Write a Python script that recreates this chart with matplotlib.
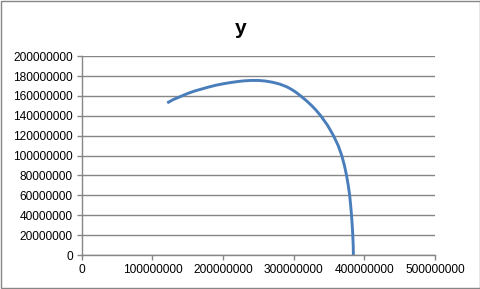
import matplotlib
matplotlib.use("Agg")
import matplotlib.pyplot as plt
from matplotlib.patches import Rectangle
from matplotlib.ticker import MultipleLocator, FuncFormatter

# values
x_vals = [121e6, 130e6, 140e6, 150e6, 160e6, 170e6, 180e6, 190e6, 200e6, 210e6,
          220e6, 230e6, 240e6, 250e6, 260e6, 270e6, 280e6, 290e6, 294.8e6, 299.5e6,
          304.5e6, 310e6, 318e6, 326e6, 332e6, 338.5e6, 348.5e6, 356.5e6, 363.2e6, 368.2e6,
          372e6, 375e6, 377.4e6, 379.4e6, 380.8e6, 382e6, 383e6, 383.8e6, 384.4e6, 384.7e6]
y_vals = [153e6, 156.5e6, 159.5e6, 162.5e6, 165e6, 167e6, 169e6, 170.8e6, 172.2e6, 173.4e6,
          174.4e6, 175.2e6, 175.6e6, 175.6e6, 175e6, 173.8e6, 172e6, 169.3e6, 167.5e6, 165.5e6,
          163.1e6, 160e6, 155.3e6, 150e6, 145.5e6, 140e6, 130e6, 120e6, 110e6, 100e6,
          90e6, 80e6, 70e6, 60e6, 50e6, 40e6, 30e6, 20e6, 10e6, 0]

title = "y"
x_max = 500e6
y_max = 200e6

grey = "#868686"

fig = plt.figure(figsize=(4.81, 2.89), dpi=100)
ax = fig.add_axes([0.170, 0.1176, 0.734, 0.688])

ax.plot(x_vals, y_vals, color="#4A7EBB", linewidth=2.1, solid_capstyle="butt",
        solid_joinstyle="round")

ax.set_xlim(0, x_max)
ax.set_ylim(0, y_max)
ax.xaxis.set_major_locator(MultipleLocator(100e6))
ax.yaxis.set_major_locator(MultipleLocator(20e6))
fmt = FuncFormatter(lambda v, p: "%d" % round(v))
ax.xaxis.set_major_formatter(fmt)
ax.yaxis.set_major_formatter(fmt)

ax.grid(axis="y", color=grey, linewidth=1.0)
ax.set_axisbelow(True)
for s in ["top", "right"]:
    ax.spines[s].set_visible(False)
for s in ["left", "bottom"]:
    ax.spines[s].set_color(grey)
    ax.spines[s].set_linewidth(1.0)

ax.tick_params(axis="both", direction="out", length=3.5, width=1.0, color=grey,
               labelsize=8.6, pad=3)
for lab in ax.get_xticklabels() + ax.get_yticklabels():
    lab.set_fontfamily("Liberation Sans")

fig.text(0.5, 0.9, title, ha="center", va="center", fontsize=15,
         fontweight="bold", family="Liberation Sans")

fig.patches.append(Rectangle((0.002, 0.003), 0.995, 0.993, transform=fig.transFigure,
                             fill=False, edgecolor=grey, linewidth=1.0))

fig.savefig("out.png", dpi=100)
